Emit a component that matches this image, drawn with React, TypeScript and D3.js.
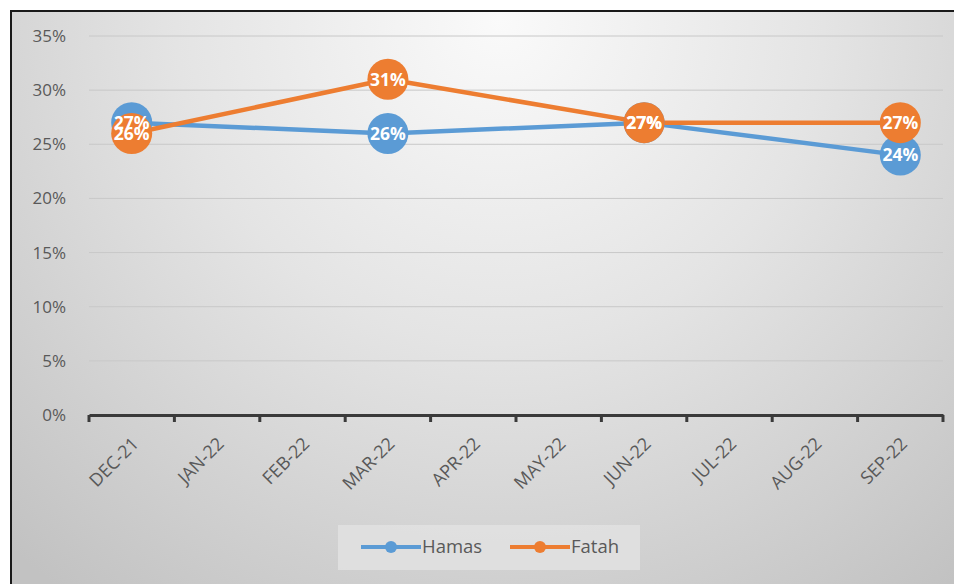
import { useEffect, useRef } from 'react';
import * as d3 from 'd3';

// Chart data
const months = ['DEC-21', 'JAN-22', 'FEB-22', 'MAR-22', 'APR-22', 'MAY-22', 'JUN-22', 'JUL-22', 'AUG-22', 'SEP-22'];
const surveyMonths = ['DEC-21', 'MAR-22', 'JUN-22', 'SEP-22'];
const hamasValues = [27, 26, 27, 24];
const fatahValues = [26, 31, 27, 27];
const yTicks = [0, 5, 10, 15, 20, 25, 30, 35];

const series = [
    { name: 'Hamas', color: '#5b9bd5', values: hamasValues },
    { name: 'Fatah', color: '#ed7d31', values: fatahValues }
];

export default function App() {
    const svgRef = useRef<SVGSVGElement>(null);

    useEffect(() => {
        if (!svgRef.current) return;
        const svg = d3.select(svgRef.current);
        svg.selectAll('*').remove();

        const width = 954;
        const height = 584;
        const font = '"Open Sans", "DejaVu Sans", sans-serif';

        // Background gradient
        const defs = svg.append('defs');
        const grad = defs.append('radialGradient')
            .attr('id', 'bg')
            .attr('gradientUnits', 'userSpaceOnUse')
            .attr('cx', 500).attr('cy', 20).attr('r', 720);
        grad.append('stop').attr('offset', '0%').attr('stop-color', '#fafafa');
        grad.append('stop').attr('offset', '45%').attr('stop-color', '#e4e4e4');
        grad.append('stop').attr('offset', '100%').attr('stop-color', '#c2c2c2');

        svg.append('rect').attr('width', width).attr('height', height).attr('fill', '#fff');
        svg.append('rect')
            .attr('x', 10).attr('y', 10)
            .attr('width', width - 10).attr('height', height - 10)
            .attr('fill', 'url(#bg)');
        // border (left + top only visible)
        svg.append('path')
            .attr('d', `M11,${height} V11 H${width}`)
            .attr('fill', 'none')
            .attr('stroke', '#1a1a1a')
            .attr('stroke-width', 2);

        const x = d3.scaleBand().domain(months).range([89, 943]);
        const y = d3.scaleLinear().domain([0, 35]).range([415, 36]);

        const g = svg.append('g');

        // Grid lines
        g.append('g')
            .selectAll('line')
            .data(yTicks.filter(t => t > 0))
            .enter()
            .append('line')
            .attr('x1', 89).attr('x2', 943)
            .attr('y1', d => y(d)).attr('y2', d => y(d))
            .attr('stroke', '#c8c8c8')
            .attr('stroke-width', 1);

        // Y labels
        g.append('g')
            .selectAll('text')
            .data(yTicks)
            .enter()
            .append('text')
            .attr('x', 66)
            .attr('y', d => y(d))
            .attr('dy', '0.35em')
            .attr('text-anchor', 'end')
            .attr('fill', '#595959')
            .attr('font-family', font)
            .attr('font-size', '17px')
            .text(d => `${d}%`);

        // X axis
        g.append('g')
            .attr('transform', `translate(0,${y(0)})`)
            .call(d3.axisBottom(x).tickSize(7).tickFormat(() => '').tickSizeOuter(0))
            .call(a => a.selectAll('.tick').remove())
            .call(a => a.select('.domain').attr('stroke', '#3a3a3a').attr('stroke-width', 3));

        const tickPos = months.map(m => x(m) || 0).concat([943]);
        g.append('g')
            .selectAll('line')
            .data(tickPos)
            .enter()
            .append('line')
            .attr('x1', d => d).attr('x2', d => d)
            .attr('y1', y(0)).attr('y2', y(0) + 7)
            .attr('stroke', '#3a3a3a')
            .attr('stroke-width', 3);

        g.append('g')
            .selectAll('text')
            .data(months)
            .enter()
            .append('text')
            .attr('transform', d => `translate(${(x(d) || 0) + x.bandwidth() / 2 + 8},${y(0) + 30}) rotate(-45)`)
            .attr('text-anchor', 'end')
            .attr('fill', '#595959')
            .attr('font-family', font)
            .attr('font-size', '18px')
            .text(d => d);

        const cx = (m: string) => (x(m) || 0) + x.bandwidth() / 2;
        const line = d3.line<number>()
            .x((_, i) => cx(surveyMonths[i]))
            .y(d => y(d));

        // Lines
        series.forEach(s => {
            g.append('path')
                .datum(s.values)
                .attr('d', line)
                .attr('fill', 'none')
                .attr('stroke', s.color)
                .attr('stroke-width', 4.5)
                .attr('stroke-linejoin', 'round');
        });

        // Markers
        series.forEach(s => {
            g.append('g')
                .selectAll('circle')
                .data(s.values)
                .enter()
                .append('circle')
                .attr('cx', (_, i) => cx(surveyMonths[i]))
                .attr('cy', d => y(d))
                .attr('r', 20.5)
                .attr('fill', s.color);
        });
        // Data labels
        series.forEach(s => {
            g.append('g')
                .selectAll('text')
                .data(s.values)
                .enter()
                .append('text')
                .attr('x', (_, i) => cx(surveyMonths[i]))
                .attr('y', d => y(d))
                .attr('dy', '0.36em')
                .attr('text-anchor', 'middle')
                .attr('fill', '#ffffff')
                .attr('font-family', font)
                .attr('font-weight', 700)
                .attr('font-size', '17.5px')
                .text(d => `${d}%`);
        });

        // Legend
        const lg = svg.append('g');
        lg.append('rect')
            .attr('x', 338).attr('y', 525)
            .attr('width', 302).attr('height', 45)
            .attr('fill', '#e2e2e2')
            .attr('opacity', 0.8);
        const legendItems = [
            { s: series[0], x0: 361 },
            { s: series[1], x0: 510 }
        ];
        legendItems.forEach(({ s, x0 }) => {
            lg.append('line')
                .attr('x1', x0).attr('x2', x0 + 60)
                .attr('y1', 547).attr('y2', 547)
                .attr('stroke', s.color).attr('stroke-width', 4);
            lg.append('circle')
                .attr('cx', x0 + 30).attr('cy', 547).attr('r', 6)
                .attr('fill', s.color);
            lg.append('text')
                .attr('x', x0 + 61).attr('y', 547)
                .attr('dy', '0.35em')
                .attr('fill', '#595959')
                .attr('font-family', font)
                .attr('font-size', '18.5px')
                .text(s.name);
        });
    }, []);

    return (
        <svg
            ref={svgRef}
            width={954}
            height={584}
            style={{ position: 'absolute', left: 0, top: 0, display: 'block' }}
        />
    );
}
